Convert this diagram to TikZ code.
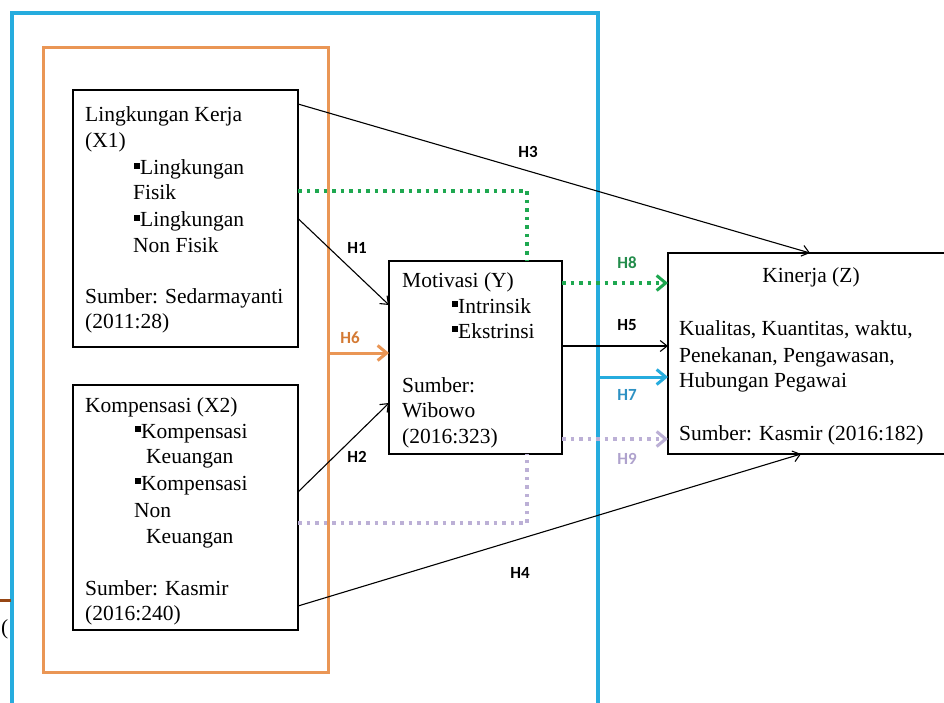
\documentclass[tikz,border=0pt]{standalone}
\usepackage{fontspec}
\setmainfont{Liberation Serif}
\newfontfamily\labfont{Carlito}
\usetikzlibrary{arrows.meta}
\definecolor{cblue}{RGB}{38,172,222}
\definecolor{cbluelab}{RGB}{45,145,195}
\definecolor{corange}{RGB}{234,150,85}
\definecolor{corangelab}{RGB}{212,122,52}
\definecolor{cgreen}{RGB}{30,168,80}
\definecolor{cgreenlab}{RGB}{35,140,75}
\definecolor{clav}{RGB}{188,176,214}
\definecolor{clavlab}{RGB}{175,162,205}
\definecolor{cbrown}{RGB}{150,70,20}
\newcommand{\sqb}{\raisebox{0.28em}{\rule{0.28em}{0.28em}}}
\begin{document}
\begin{tikzpicture}[x=1pt,y=-1pt,
  box/.style={draw,line width=2.4pt,inner sep=0,outer sep=0},
  txt/.style={anchor=base west,inner sep=0,font=\fontsize{21.5}{26}\selectfont},
  hlab/.style={font=\labfont\bfseries\fontsize{17}{20}\selectfont,inner sep=0},
  conn/.style={line width=1.1pt,-{Straight Barb[length=7pt,width=11pt]}},
  dotline/.style={line width=3.5pt,dash pattern=on 3.5pt off 5pt},
  thickhead/.style={-{Straight Barb[length=9pt,width=15pt,line width=3pt]}}
]
\useasboundingbox (0,0) rectangle (944,703);
\fill[white] (0,0) rectangle (944,703);

% outer frames
\node[draw=cblue,line width=3.5pt,inner sep=0,minimum width=586pt,minimum height=707pt] (brect) at (305,366.5) {};
\node[draw=corange,line width=3pt,inner sep=0,minimum width=285pt,minimum height=624pt] (orect) at (185.5,360) {};

% artifact at left edge
\draw[cbrown,line width=3pt] (0,600) -- (11,600) coordinate (brl);
\node[txt,anchor=base west] (paren) at (1,634) {(};

% boxes
\node[box,minimum width=225pt,minimum height=257pt] (x1) at (185.5,218.5) {};
\node[box,minimum width=225pt,minimum height=245pt] (x2) at (185.5,507.5) {};
\node[box,minimum width=173pt,minimum height=193pt] (mot) at (475.5,357.5) {};
\node[box,minimum width=282pt,minimum height=201pt] (kin) at (809,353.5) {};

% X1 text
\node[txt] (t11) at (85,122) {Lingkungan Kerja};
\node[txt] (t12) at (85,148) {(X1)};
\node[txt] (t13) at (134,175) {\sqb Lingkungan};
\node[txt] (t14) at (133,200) {Fisik};
\node[txt] (t15) at (134,227) {\sqb Lingkungan};
\node[txt] (t16) at (133,252) {Non Fisik};
\node[txt] (t17) at (85,303) {Sumber: Sedarmayanti};
\node[txt] (t18) at (85,328) {(2011:28)};

% X2 text
\node[txt] (t21) at (85,412) {Kompensasi (X2)};
\node[txt] (t22) at (135,438) {\sqb Kompensasi};
\node[txt] (t23) at (146,463) {Keuangan};
\node[txt] (t24) at (135,490) {\sqb Kompensasi};
\node[txt] (t25) at (134,517) {Non};
\node[txt] (t26) at (146,543) {Keuangan};
\node[txt] (t27) at (85,595) {Sumber: Kasmir};
\node[txt] (t28) at (85,620) {(2016:240)};

% Motivasi text
\node[txt] (t31) at (402,287) {Motivasi (Y)};
\node[txt] (t32) at (452,313) {\sqb Intrinsik};
\node[txt] (t33) at (452,338) {\sqb Ekstrinsi};
\node[txt] (t34) at (402,392) {Sumber:};
\node[txt] (t35) at (402,417) {Wibowo};
\node[txt] (t36) at (402,443) {(2016:323)};

% Kinerja text
\node[txt,anchor=base] (t41) at (811,282) {Kinerja (Z)};
\node[txt] (t42) at (679,335) {Kualitas, Kuantitas, waktu,};
\node[txt] (t43) at (679,362) {Penekanan, Pengawasan,};
\node[txt] (t44) at (679,387) {Hubungan Pegawai};
\node[txt] (t45) at (679,440) {Sumber: Kasmir (2016:182)};

% black connectors
\draw[conn] ([yshift=-14pt]x1.north east) -- ([xshift=1pt]kin.north);
\draw[conn] (x1.east) -- ([yshift=52.5pt]mot.west);
\draw[conn] ([yshift=15.5pt]x2.east) -- ([yshift=-45.5pt]mot.west);
\draw[conn] ([yshift=-98.5pt]x2.east) -- ([xshift=-8pt]kin.south);
\coordinate (h5s) at ([yshift=11.5pt]mot.east);
\draw[conn] (h5s) -- (h5s -| kin.west);

% green dotted
\draw[cgreen,dotline] ([yshift=27.5pt]x1.east) -| ([xshift=51.5pt]mot.north);
\coordinate (h8s) at ([yshift=74.5pt]mot.east);
\draw[cgreen,dotline,thickhead] (h8s) -- (h8s -| kin.west);

% lavender dotted
\draw[clav,dotline] ([yshift=-15.5pt]x2.east) -| ([xshift=51.5pt]mot.south);
\coordinate (h9s) at ([yshift=-81.5pt]mot.east);
\draw[clav,dotline,thickhead] (h9s) -- (h9s -| kin.west);

% orange H6
\coordinate (h6s) at ([yshift=7pt]orect.east);
\draw[corange,line width=3pt,-{Straight Barb[length=9pt,width=15pt,line width=3pt]}] (h6s) -- (h6s -| mot.west);

% blue H7
\coordinate (h7s) at ([yshift=-10.5pt]brect.east);
\draw[cblue,line width=3pt,-{Straight Barb[length=9pt,width=15pt,line width=3pt]}] (h7s) -- (h7s -| kin.west);

% labels
\node[hlab] (h1) at (357,248) {H1};
\node[hlab] (h2) at (357,457) {H2};
\node[hlab] (h3) at (528,152) {H3};
\node[hlab] (h4) at (520,573) {H4};
\node[hlab] (h5) at (627,325) {H5};
\node[hlab,text=corangelab] (h6) at (350,338) {H6};
\node[hlab,text=cbluelab] (h7) at (627,395) {H7};
\node[hlab,text=cgreenlab] (h8) at (627,263) {H8};
\node[hlab,text=clavlab] (h9) at (627,459) {H9};
\end{tikzpicture}
\end{document}
